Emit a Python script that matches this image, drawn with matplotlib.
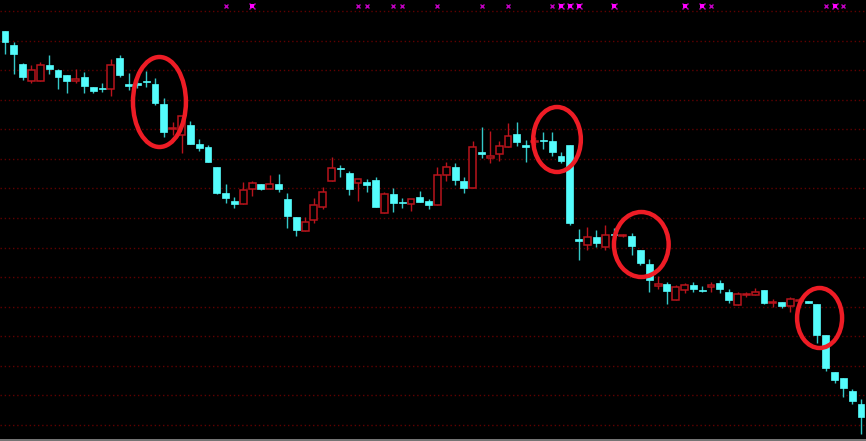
import numpy as np
import matplotlib.pyplot as plt
from matplotlib.patches import Ellipse

# daily OHLC (arbitrary price units)
opens = [41.9, 40.5, 38.6, 36.9, 36.9, 38.5, 38.0, 37.5, 36.9, 37.3,
         36.3, 36.2, 36.1, 39.2, 36.6, 36.7, 36.9, 36.6, 34.6, 32.1,
         31.5, 32.5, 30.6, 30.3, 28.3, 25.7, 24.9, 24.6, 26.1, 26.6,
         26.1, 26.6, 25.1, 23.3, 21.9, 23.0, 24.3, 26.9, 28.2, 27.7,
         26.7, 26.8, 27.0, 23.7, 25.6, 24.8, 24.6, 25.3, 24.9, 24.5,
         27.5, 28.3, 26.9, 26.2, 29.8, 29.2, 29.6, 30.3, 31.6, 30.5,
         30.8, 31.0, 30.9, 29.4, 30.5, 21.1, 20.5, 21.3, 20.3, 21.6,
         21.4, 21.4, 20.0, 18.6, 16.4, 16.6, 15.0, 16.0, 16.5, 16.0,
         16.3, 16.7, 15.8, 14.5, 15.5, 15.5, 16.0, 14.7, 14.8, 14.4,
         14.9, 14.9, 14.6, 11.5, 7.8, 7.2, 5.9, 4.6]
highs = [41.9, 40.8, 38.7, 38.5, 38.8, 39.5, 38.1, 37.5, 38.1, 37.8,
         36.3, 36.7, 39.1, 39.5, 37.7, 37.6, 37.9, 37.2, 35.2, 32.8,
         33.4, 32.9, 31.1, 30.5, 28.3, 26.6, 25.3, 26.8, 26.9, 26.6,
         27.5, 27.6, 25.7, 23.3, 23.3, 25.2, 26.3, 29.3, 28.5, 27.9,
         27.1, 27.1, 27.3, 25.8, 26.2, 25.2, 25.1, 25.9, 25.1, 28.3,
         28.8, 28.7, 27.3, 30.9, 32.3, 31.9, 30.9, 32.7, 32.8, 31.0,
         31.3, 31.8, 31.8, 29.8, 30.5, 22.1, 22.3, 22.0, 22.5, 22.2,
         21.6, 21.7, 20.0, 19.1, 17.4, 16.8, 16.5, 16.7, 16.8, 16.4,
         16.8, 17.0, 16.1, 15.8, 15.8, 16.2, 16.0, 15.1, 14.8, 15.3,
         15.2, 14.9, 14.6, 11.5, 7.8, 7.2, 6.1, 5.1]
lows = [39.6, 37.6, 37.0, 36.7, 36.9, 37.6, 36.1, 35.7, 36.7, 35.7,
        35.7, 35.8, 35.4, 37.3, 36.0, 36.2, 36.3, 34.5, 31.3, 31.5,
        29.7, 30.6, 29.9, 28.8, 25.6, 24.7, 24.2, 24.6, 25.4, 26.0,
        26.1, 25.8, 22.2, 21.4, 21.9, 22.7, 24.1, 26.9, 27.3, 25.5,
        24.9, 25.8, 24.3, 23.7, 23.8, 24.2, 23.9, 24.8, 24.1, 24.5,
        26.9, 26.5, 25.7, 26.2, 29.2, 28.7, 28.9, 30.3, 30.4, 28.8,
        30.5, 30.1, 29.4, 28.7, 22.5, 19.0, 20.0, 20.3, 20.0, 21.2,
        21.3, 19.5, 18.5, 15.8, 16.1, 14.6, 15.0, 15.7, 15.8, 15.8,
        15.8, 15.7, 14.7, 14.5, 15.3, 15.5, 14.6, 14.3, 14.2, 13.8,
        14.9, 14.7, 10.7, 7.9, 6.7, 5.3, 4.6, 1.6]
closes = [40.8, 39.6, 37.3, 38.0, 38.5, 38.1, 37.3, 36.9, 37.1, 36.4,
          35.9, 36.1, 38.5, 37.5, 36.4, 36.5, 36.8, 34.7, 31.8, 32.2,
          33.4, 30.6, 30.2, 28.8, 25.7, 25.2, 24.6, 26.0, 26.7, 26.1,
          26.6, 26.1, 23.4, 22.0, 22.8, 24.5, 25.8, 28.2, 28.1, 26.1,
          27.1, 26.5, 24.3, 25.6, 24.7, 24.7, 25.1, 24.8, 24.5, 27.5,
          28.3, 27.0, 26.2, 30.3, 29.6, 29.4, 30.4, 31.4, 30.8, 30.3,
          30.9, 30.9, 29.8, 28.9, 22.7, 20.9, 21.3, 20.7, 21.5, 21.5,
          21.5, 20.4, 18.7, 17.0, 16.6, 15.9, 16.3, 16.5, 16.1, 15.9,
          16.5, 16.1, 15.0, 15.6, 15.6, 15.8, 14.7, 14.8, 14.4, 15.1,
          15.0, 14.7, 11.5, 8.2, 7.0, 6.2, 4.9, 3.3]

# signal marks along the top (candle index)
marks_small = [25, 40, 41, 44, 45, 49, 54, 57, 62, 80, 93, 95]
marks_big = [28, 63, 64, 65, 69, 77, 79, 94]

# hand-drawn circles: (center idx, center price, width in bars, height in price)
circles = [(17.5, 34.8, 6.0, 9.0),
           (62.55, 31.05, 5.4, 6.5),
           (72.1, 20.55, 6.2, 6.5),
           (92.3, 13.2, 5.1, 6.0)]

grid_levels = [43.9, 40.95, 38.0, 35.05, 32.1, 29.1, 26.2, 23.2,
               20.25, 17.3, 14.35, 11.4, 8.45, 5.5, 2.55]

CYAN = '#54fcfc'
CYAN_WICK = '#34c8c8'
RED = '#b8141c'

fig = plt.figure(figsize=(8.66, 4.41), dpi=100, facecolor='black')
ax = fig.add_axes([0, 0, 1, 1])
ax.set_facecolor('black')

for lv in grid_levels:
    ax.axhline(lv, color='#600000', lw=1, ls=(0, (1, 2)), zorder=0)
ax.axhline(1.05, color='#8c8c8c', lw=1.2, zorder=1)

x = np.arange(len(opens))
o = np.array(opens)
c = np.array(closes)
up = c > o
w = 0.78

for i in x:
    ax.vlines(i, lows[i], highs[i], color=RED if up[i] else CYAN_WICK,
              lw=1, zorder=2)
    bottom = min(o[i], c[i])
    h = max(abs(c[i] - o[i]), 0.1)
    if up[i]:
        ax.bar(i, h, w, bottom=bottom, facecolor='black', edgecolor=RED,
               lw=1.1, zorder=3)
    else:
        ax.bar(i, h, w, bottom=bottom, facecolor=CYAN, edgecolor=CYAN,
               lw=0.5, zorder=3)

ax.plot(marks_small, [44.4] * len(marks_small), 'x', color='#c000c0',
        ms=3.2, mew=1, zorder=4)
ax.plot(marks_big, [44.4] * len(marks_big), 'x', color='#c000c0',
        ms=4, mew=1, zorder=4)
ax.plot(marks_big, [44.4] * len(marks_big), 's', color='#ff00ff',
        ms=2.2, mew=0, zorder=4)

for cx, cy, ew, eh in circles:
    ax.add_patch(Ellipse((cx, cy), ew, eh, fill=False, edgecolor='#ee1c25',
                         lw=3.2, zorder=5))

ax.set_xlim(-0.567, 97.56)
ax.set_ylim(0.9, 45)
ax.axis('off')

plt.savefig('out.png', dpi=100, facecolor='black')
plt.close()
